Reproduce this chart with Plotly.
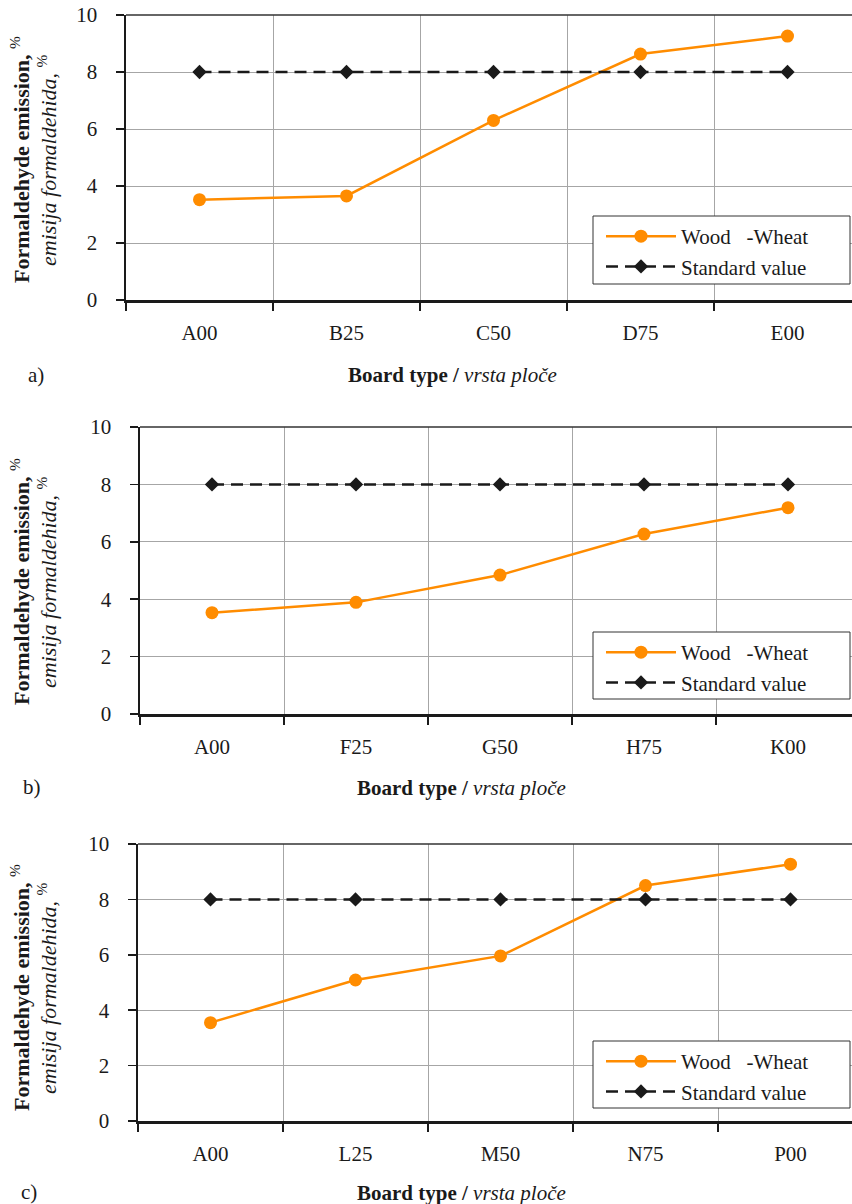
import plotly.graph_objects as go

W, H = 852, 1204

cats_a = ["A00", "B25", "C50", "D75", "E00"]
wood_a = [3.52, 3.65, 6.3, 8.63, 9.26]
cats_b = ["A00", "F25", "G50", "H75", "K00"]
wood_b = [3.53, 3.89, 4.84, 6.27, 7.19]
cats_c = ["A00", "L25", "M50", "N75", "P00"]
wood_c = [3.55, 5.09, 5.96, 8.5, 9.27]
standard = [8, 8, 8, 8, 8]
y_ticks = [0, 2, 4, 6, 8, 10]
panel_labels = ["a)", "b)", "c)"]

ORANGE = "#FF8C00"
DARK = "#1a1a1a"
GRID = "#A6A6A6"
FONT = "Liberation Serif, Times New Roman, serif"

# panel geometry in pixels
panels = [
    dict(cats=cats_a, wood=wood_a, left=126, top=15, bottom=300, cw=147,
         ytitle_y=160, xtitle=(453, 375), lab=(36, 375), leg=(593, 216, 850, 284)),
    dict(cats=cats_b, wood=wood_b, left=140, top=427, bottom=714, cw=144,
         ytitle_y=582, xtitle=(461, 788), lab=(32, 787), leg=(593, 632, 850, 699)),
    dict(cats=cats_c, wood=wood_c, left=138, top=844, bottom=1121, cw=145,
         ytitle_y=988, xtitle=(461, 1193), lab=(29, 1192), leg=(593, 1041, 850, 1108)),
]

def px(x):
    return x / W

def py(y):
    return 1 - y / H

fig = go.Figure()
layout = dict(
    template="none",
    width=W, height=H,
    margin=dict(l=0, r=0, t=0, b=0, pad=0, autoexpand=False),
    paper_bgcolor="white", plot_bgcolor="white",
    font=dict(family=FONT, size=20, color=DARK),
    showlegend=True,
)
annotations = []
shapes = []

for i, p in enumerate(panels):
    n = "" if i == 0 else str(i + 1)
    xa = "x" + n
    ya = "y" + n
    leg = "legend" + n
    fig.add_trace(go.Scatter(
        x=p["cats"], y=p["wood"], xaxis=xa, yaxis=ya, legend=leg,
        name="Wood\u00a0\u00a0\u00a0-Wheat", mode="lines+markers",
        line=dict(color=ORANGE, width=2.5),
        marker=dict(symbol="circle", size=13, color=ORANGE),
    ))
    fig.add_trace(go.Scatter(
        x=p["cats"], y=standard, xaxis=xa, yaxis=ya, legend=leg,
        name="Standard value", mode="lines+markers",
        line=dict(color=DARK, width=2.5, dash="12px,7px"),
        marker=dict(symbol="diamond", size=11, color=DARK),
    ))
    rmax = -0.5 + (W - p["left"]) / p["cw"]
    layout["xaxis" + n] = dict(
        domain=[px(p["left"]), 1], anchor=ya, automargin=False,
        type="category", range=[-0.5, rmax],
        tickson="boundaries", ticks="outside", ticklen=8, tickwidth=1.5,
        tickcolor=DARK, showgrid=True, gridcolor=GRID, gridwidth=1,
        showline=True, linecolor=DARK, linewidth=2.5, zeroline=False,
        tickfont=dict(family=FONT, size=21, color=DARK),
        ticklabelstandoff=12, fixedrange=True,
    )
    layout["yaxis" + n] = dict(
        domain=[py(p["bottom"]), py(p["top"])], anchor=xa, automargin=False,
        range=[0, 10], tickvals=y_ticks, ticks="outside", ticklen=8,
        tickwidth=1.5, tickcolor=DARK, showgrid=True, gridcolor=GRID,
        gridwidth=1, showline=True, linecolor=DARK, linewidth=2.5,
        zeroline=False,
        tickfont=dict(family=FONT, size=21, color=DARK),
        ticklabelstandoff=14, fixedrange=True,
    )
    lx0, ly0, lx1, ly1 = p["leg"]
    # legend box drawn as a shape (white fill, thin border)
    shapes.append(dict(type="rect", xref="paper", yref="paper", layer="above",
                       x0=px(lx0), x1=px(lx1), y0=py(ly1), y1=py(ly0),
                       fillcolor="white", line=dict(color="#333333", width=1)))
    layout[leg] = dict(
        x=px(lx0 + 8), y=py(ly0), xanchor="left", yanchor="top",
        xref="paper", yref="paper",
        bgcolor="rgba(0,0,0,0)", borderwidth=0,
        font=dict(family=FONT, size=21, color=DARK),
        itemwidth=70, tracegroupgap=0,
    )
    # top border
    shapes.append(dict(type="line", xref="paper", yref="paper",
                       x0=px(p["left"]), x1=1, y0=py(p["top"]), y1=py(p["top"]),
                       line=dict(color="#333333", width=1.5)))
    # y titles
    annotations.append(dict(
        x=px(20), y=py(p["ytitle_y"]), xref="paper", yref="paper",
        text="<b>Formaldehyde emission,</b> <sup>%</sup>", textangle=-90,
        showarrow=False, font=dict(family=FONT, size=22, color=DARK),
        xanchor="center", yanchor="middle"))
    annotations.append(dict(
        x=px(47), y=py(p["ytitle_y"]), xref="paper", yref="paper",
        text="<i>emisija formaldehida,</i> <sup>%</sup>", textangle=-90,
        showarrow=False, font=dict(family=FONT, size=22, color=DARK),
        xanchor="center", yanchor="middle"))
    annotations.append(dict(
        x=px(p["xtitle"][0]), y=py(p["xtitle"][1]), xref="paper", yref="paper",
        text="<b>Board type /</b> <i>vrsta ploče</i>", showarrow=False,
        font=dict(family=FONT, size=21, color=DARK),
        xanchor="center", yanchor="middle"))
    annotations.append(dict(
        x=px(p["lab"][0]), y=py(p["lab"][1]), xref="paper", yref="paper",
        text=panel_labels[i], showarrow=False,
        font=dict(family=FONT, size=21, color=DARK),
        xanchor="center", yanchor="middle"))

layout["annotations"] = annotations
layout["shapes"] = shapes
fig.update_layout(**layout)
fig.write_html("out.html",
               config={"displayModeBar": False, "staticPlot": True},
               post_script="document.body.style.margin='0';document.body.style.overflow='hidden';")
